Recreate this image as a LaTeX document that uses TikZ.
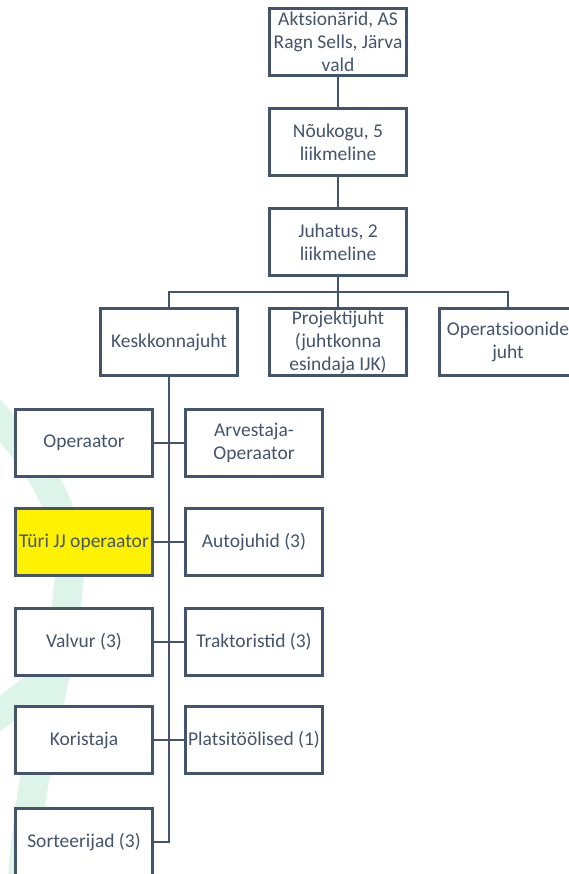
\documentclass[tikz,border=0pt]{standalone}
\usepackage{fontspec}
\setmainfont{Carlito}
\usepackage{tikz}
\definecolor{slate}{HTML}{44546A}
\definecolor{mint}{RGB}{221,245,233}
\colorlet{boxline}{slate}
\colorlet{highlight}{yellow}

\begin{document}
\begin{tikzpicture}[x=1pt, y=-1pt,
		box/.style={draw=boxline, line width=2.6pt, fill=white, minimum width=137pt, minimum height=67pt,
			inner sep=1pt, align=center, text=slate, font=\fontsize{19.5}{23}\selectfont},
		marked/.style={box, fill=highlight},
		link/.style={draw=slate, line width=1.4pt}]
					\useasboundingbox (0,0) rectangle (569,874);
					\fill[white] (0,0) rectangle (569,874);
					
					\begin{scope}[line width=29pt, draw=mint, line cap=butt]
						\draw (-15,405) .. controls (40,460) and (78,520) .. (68,590) .. controls (60,680) and (30,760) .. (22,885);
						\draw (-15,724) .. controls (20,700) and (50,675) .. (80,650);
					\end{scope}
					
					\node[box] (aktsionarid) at (338,42) {Aktsionärid, AS\\Ragn Sells, Järva\\vald};
					\node[box] (noukogu) at (338,142) {Nõukogu, 5\\liikmeline};
					\node[box] (juhatus) at (338,242) {Juhatus, 2\\liikmeline};
					
					\node[box] (keskkonnajuht) at (169,342) {Keskkonnajuht};
					\node[box] (projektijuht) at (338,342) {Projektijuht\\(juhtkonna\\esindaja IJK)};
					\node[box] (operatsioonide) at (508,342) {Operatsioonide\\juht};
					
					\node[box] (operaator) at (84,443) {Operaator};
					\node[marked] (turi) at (84,542) {Türi JJ operaator};
					\node[box] (valvur) at (84,642) {Valvur (3)};
					\node[box] (koristaja) at (84,740) {Koristaja};
					\node[box] (sorteerijad) at (84,842) {Sorteerijad (3)};
					
					\node[box] (arvestaja) at (254,443) {Arvestaja-\\Operaator};
					\node[box] (autojuhid) at (254,542) {Autojuhid (3)};
					\node[box] (traktoristid) at (254,642) {Traktoristid (3)};
					\node[box] (platsitoolised) at (254,740) {Platsitöölised (1)};
					
					\draw[link] (aktsionarid) -- (noukogu);
					\draw[link] (noukogu) -- (juhatus);
					\draw[link] (juhatus) -- (projektijuht);
					\draw[link] (juhatus.south) -- ++(0,15) -| (keskkonnajuht.north);
					\draw[link] (juhatus.south) -- ++(0,15) -| (operatsioonide.north);
					
					\draw[link] (keskkonnajuht.south) |- (sorteerijad.east);
					\draw[link] (operaator) -- (arvestaja);
					\draw[link] (turi) -- (autojuhid);
					\draw[link] (valvur) -- (traktoristid);
					\draw[link] (koristaja) -- (platsitoolised);
				\end{tikzpicture}
\end{document}
